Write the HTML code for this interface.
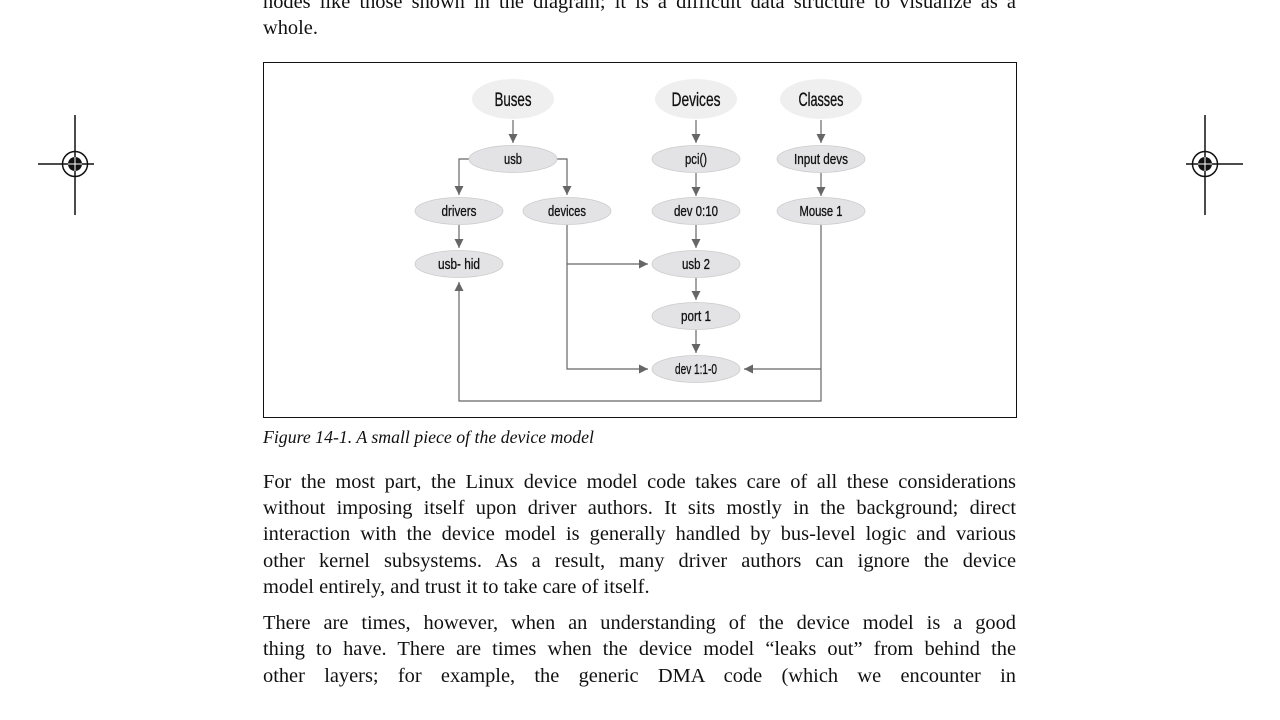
<!DOCTYPE html>
<html><head><meta charset="utf-8"><style>
html,body{margin:0;padding:0;background:#fff;width:1280px;height:720px;overflow:hidden;position:relative}
.t{position:absolute;left:263px;width:753px;font-family:"Liberation Serif",serif;font-size:20.4px;line-height:26.3px;color:#111;text-align:justify;text-align-last:justify;white-space:nowrap}
.t.l{text-align-last:left}
svg{position:absolute;left:0;top:0}
</style></head><body>
<div class="t" style="top:-11px">nodes like those shown in the diagram; it is a difficult data structure to visualize as a</div>
<div class="t l" style="top:15px">whole.</div>
<div class="t l" style="top:424px;font-style:italic;font-size:17.8px">Figure 14-1. A small piece of the device model</div>
<div class="t" style="top:469px">For the most part, the Linux device model code takes care of all these considerations</div>
<div class="t" style="top:495px">without imposing itself upon driver authors. It sits mostly in the background; direct</div>
<div class="t" style="top:521px">interaction with the device model is generally handled by bus-level logic and various</div>
<div class="t" style="top:548px">other kernel subsystems. As a result, many driver authors can ignore the device</div>
<div class="t l" style="top:574px">model entirely, and trust it to take care of itself.</div>
<div class="t" style="top:610px">There are times, however, when an understanding of the device model is a good</div>
<div class="t" style="top:636px">thing to have. There are times when the device model “leaks out” from behind the</div>
<div class="t" style="top:663px">other layers; for example, the generic DMA code (which we encounter in</div>
<svg width="1280" height="720" viewBox="0 0 1280 720">
<defs><marker id="a" viewBox="0 0 10 10" refX="10" refY="5" markerWidth="9" markerHeight="9" markerUnits="userSpaceOnUse" orient="auto"><path d="M0,0L10,5L0,10z" fill="#666"/></marker></defs>
<g stroke="#111" stroke-width="1.5">
<line x1="75" y1="115" x2="75" y2="215"/><line x1="38" y1="164" x2="94" y2="164"/>
<line x1="1205" y1="115" x2="1205" y2="215"/><line x1="1186" y1="164" x2="1243" y2="164"/>
</g>
<circle cx="75" cy="164" r="12.5" fill="none" stroke="#111" stroke-width="1.5"/>
<circle cx="75" cy="164" r="7" fill="#111"/>
<circle cx="1205" cy="164" r="12.5" fill="none" stroke="#111" stroke-width="1.5"/>
<circle cx="1205" cy="164" r="7" fill="#111"/>
<g stroke="#fff" stroke-width="1"><line x1="75" y1="157" x2="75" y2="171"/><line x1="68" y1="164" x2="82" y2="164"/><line x1="1205" y1="157" x2="1205" y2="171"/><line x1="1198" y1="164" x2="1212" y2="164"/></g>
<rect x="263.5" y="62.5" width="753" height="355" fill="none" stroke="#111" stroke-width="1"/>
<g fill="none" stroke="#666" stroke-width="1.2">
<line x1="513" y1="120" x2="513" y2="143" marker-end="url(#a)"/>
<line x1="696" y1="120" x2="696" y2="143" marker-end="url(#a)"/>
<line x1="821" y1="120" x2="821" y2="143" marker-end="url(#a)"/>
<polyline points="470,159 459,159 459,195" marker-end="url(#a)"/>
<polyline points="556,159 567,159 567,195" marker-end="url(#a)"/>
<line x1="696" y1="173" x2="696" y2="196" marker-end="url(#a)"/>
<line x1="821" y1="173" x2="821" y2="196" marker-end="url(#a)"/>
<line x1="459" y1="225" x2="459" y2="248" marker-end="url(#a)"/>
<line x1="696" y1="225" x2="696" y2="248" marker-end="url(#a)"/>
<line x1="696" y1="278" x2="696" y2="300" marker-end="url(#a)"/>
<line x1="696" y1="330" x2="696" y2="353" marker-end="url(#a)"/>
<polyline points="567,225 567,369 648,369" marker-end="url(#a)"/>
<polyline points="567,264 648,264" marker-end="url(#a)"/>
<polyline points="821,225 821,401 459,401 459,282" marker-end="url(#a)"/>
<polyline points="821,369 744,369" marker-end="url(#a)"/>
</g>
<g fill="#efefef"><ellipse cx="513" cy="99" rx="41" ry="20"/><ellipse cx="696" cy="99" rx="41" ry="20"/><ellipse cx="821" cy="99" rx="41" ry="20"/></g>
<g fill="#e3e3e6" stroke="#ccc" stroke-width="0.8">
<ellipse cx="513" cy="159" rx="44" ry="13.5"/><ellipse cx="696" cy="159" rx="44" ry="13.5"/><ellipse cx="821" cy="159" rx="44" ry="13.5"/>
<ellipse cx="459" cy="211" rx="44" ry="13.5"/><ellipse cx="567" cy="211" rx="44" ry="13.5"/><ellipse cx="696" cy="211" rx="44" ry="13.5"/><ellipse cx="821" cy="211" rx="44" ry="13.5"/>
<ellipse cx="459" cy="264" rx="44" ry="13.5"/><ellipse cx="696" cy="264" rx="44" ry="13.5"/>
<ellipse cx="696" cy="316" rx="44" ry="13.5"/><ellipse cx="696" cy="369" rx="44" ry="13.5"/>
</g>
<g font-family="'Liberation Sans',sans-serif" text-anchor="middle" fill="#111" stroke="#111" stroke-width="0.3">
<g font-size="19">
<text x="513" y="106" textLength="37" lengthAdjust="spacingAndGlyphs">Buses</text>
<text x="696" y="106" textLength="49" lengthAdjust="spacingAndGlyphs">Devices</text>
<text x="821" y="106" textLength="45" lengthAdjust="spacingAndGlyphs">Classes</text></g>
<g font-size="14.5">
<text x="513" y="164" textLength="18" lengthAdjust="spacingAndGlyphs">usb</text>
<text x="696" y="164" textLength="22" lengthAdjust="spacingAndGlyphs">pci()</text>
<text x="821" y="164" textLength="54" lengthAdjust="spacingAndGlyphs">Input devs</text>
<text x="459" y="216" textLength="35" lengthAdjust="spacingAndGlyphs">drivers</text>
<text x="567" y="216" textLength="38" lengthAdjust="spacingAndGlyphs">devices</text>
<text x="696" y="216" textLength="44" lengthAdjust="spacingAndGlyphs">dev 0:10</text>
<text x="821" y="216" textLength="43" lengthAdjust="spacingAndGlyphs">Mouse 1</text>
<text x="459" y="269" textLength="42" lengthAdjust="spacingAndGlyphs">usb- hid</text>
<text x="696" y="269" textLength="28" lengthAdjust="spacingAndGlyphs">usb 2</text>
<text x="696" y="321" textLength="30" lengthAdjust="spacingAndGlyphs">port 1</text>
<text x="696" y="374" textLength="42" lengthAdjust="spacingAndGlyphs">dev 1:1-0</text>
</g></g>
</svg>
</body></html>
